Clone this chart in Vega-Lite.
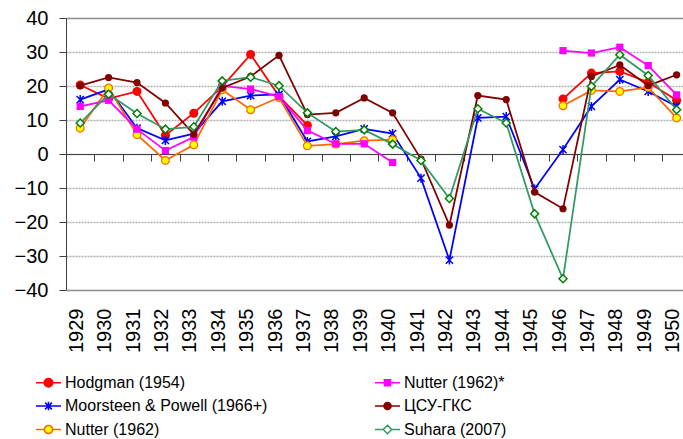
{
  "$schema": "https://vega.github.io/schema/vega-lite/v6.json",
  "autosize": {"type": "none"},
  "padding": {"left": 66, "top": 18, "right": 0, "bottom": 149},
  "width": 617,
  "height": 272,
  "background": "white",
  "config": {
    "view": {"stroke": null},
    "font": "Liberation Sans",
    "axis": {"labelFont": "Liberation Sans", "labelColor": "black", "titleFont": "Liberation Sans"},
    "legend": {"labelFont": "Liberation Sans"}
  },
  "datasets": {
    "d": [
      {"s": "Hodgman (1954)", "year": 1929, "v": 20.3, "p": 1},
      {"s": "Hodgman (1954)", "year": 1930, "v": 16.3, "p": 1},
      {"s": "Hodgman (1954)", "year": 1931, "v": 18.4, "p": 1},
      {"s": "Hodgman (1954)", "year": 1932, "v": 5.5, "p": 1},
      {"s": "Hodgman (1954)", "year": 1933, "v": 12, "p": 1},
      {"s": "Hodgman (1954)", "year": 1934, "v": 19.8, "p": 1},
      {"s": "Hodgman (1954)", "year": 1935, "v": 29.3, "p": 1},
      {"s": "Hodgman (1954)", "year": 1936, "v": 17, "p": 1},
      {"s": "Hodgman (1954)", "year": 1937, "v": 8.4, "p": 1},
      {"s": "Hodgman (1954)", "year": 1946, "v": 16.2, "p": 2},
      {"s": "Hodgman (1954)", "year": 1947, "v": 23.8, "p": 2},
      {"s": "Hodgman (1954)", "year": 1948, "v": 24.3, "p": 2},
      {"s": "Hodgman (1954)", "year": 1949, "v": 21.1, "p": 2},
      {"s": "Hodgman (1954)", "year": 1950, "v": 15.8, "p": 2},

      {"s": "Moorsteen & Powell (1966+)", "year": 1929, "v": 16, "p": 1},
      {"s": "Moorsteen & Powell (1966+)", "year": 1930, "v": 19, "p": 1},
      {"s": "Moorsteen & Powell (1966+)", "year": 1931, "v": 7.6, "p": 1},
      {"s": "Moorsteen & Powell (1966+)", "year": 1932, "v": 4, "p": 1},
      {"s": "Moorsteen & Powell (1966+)", "year": 1933, "v": 6, "p": 1},
      {"s": "Moorsteen & Powell (1966+)", "year": 1934, "v": 15.5, "p": 1},
      {"s": "Moorsteen & Powell (1966+)", "year": 1935, "v": 17.2, "p": 1},
      {"s": "Moorsteen & Powell (1966+)", "year": 1936, "v": 17.5, "p": 1},
      {"s": "Moorsteen & Powell (1966+)", "year": 1937, "v": 3.7, "p": 1},
      {"s": "Moorsteen & Powell (1966+)", "year": 1938, "v": 5.2, "p": 1},
      {"s": "Moorsteen & Powell (1966+)", "year": 1939, "v": 7.4, "p": 1},
      {"s": "Moorsteen & Powell (1966+)", "year": 1940, "v": 6, "p": 1},
      {"s": "Moorsteen & Powell (1966+)", "year": 1941, "v": -7.1, "p": 1},
      {"s": "Moorsteen & Powell (1966+)", "year": 1942, "v": -31.2, "p": 1},
      {"s": "Moorsteen & Powell (1966+)", "year": 1943, "v": 10.6, "p": 1},
      {"s": "Moorsteen & Powell (1966+)", "year": 1944, "v": 11, "p": 1},
      {"s": "Moorsteen & Powell (1966+)", "year": 1945, "v": -10.3, "p": 1},
      {"s": "Moorsteen & Powell (1966+)", "year": 1946, "v": 1.3, "p": 1},
      {"s": "Moorsteen & Powell (1966+)", "year": 1947, "v": 14, "p": 1},
      {"s": "Moorsteen & Powell (1966+)", "year": 1948, "v": 21.9, "p": 1},
      {"s": "Moorsteen & Powell (1966+)", "year": 1949, "v": 18.4, "p": 1},
      {"s": "Moorsteen & Powell (1966+)", "year": 1950, "v": 14, "p": 1},

      {"s": "Nutter (1962)", "year": 1929, "v": 7.6, "p": 1},
      {"s": "Nutter (1962)", "year": 1930, "v": 19.4, "p": 1},
      {"s": "Nutter (1962)", "year": 1931, "v": 5.7, "p": 1},
      {"s": "Nutter (1962)", "year": 1932, "v": -1.9, "p": 1},
      {"s": "Nutter (1962)", "year": 1933, "v": 2.7, "p": 1},
      {"s": "Nutter (1962)", "year": 1934, "v": 18.9, "p": 1},
      {"s": "Nutter (1962)", "year": 1935, "v": 13, "p": 1},
      {"s": "Nutter (1962)", "year": 1936, "v": 16.6, "p": 1},
      {"s": "Nutter (1962)", "year": 1937, "v": 2.4, "p": 1},
      {"s": "Nutter (1962)", "year": 1938, "v": 2.9, "p": 1},
      {"s": "Nutter (1962)", "year": 1939, "v": 3.9, "p": 1},
      {"s": "Nutter (1962)", "year": 1940, "v": 4.2, "p": 1},
      {"s": "Nutter (1962)", "year": 1946, "v": 14.2, "p": 2},
      {"s": "Nutter (1962)", "year": 1947, "v": 18.7, "p": 2},
      {"s": "Nutter (1962)", "year": 1948, "v": 18.4, "p": 2},
      {"s": "Nutter (1962)", "year": 1949, "v": 19.6, "p": 2},
      {"s": "Nutter (1962)", "year": 1950, "v": 10.6, "p": 2},

      {"s": "Nutter (1962)*", "year": 1929, "v": 14, "p": 1},
      {"s": "Nutter (1962)*", "year": 1930, "v": 15.8, "p": 1},
      {"s": "Nutter (1962)*", "year": 1931, "v": 7.3, "p": 1},
      {"s": "Nutter (1962)*", "year": 1932, "v": 1, "p": 1},
      {"s": "Nutter (1962)*", "year": 1933, "v": 5, "p": 1},
      {"s": "Nutter (1962)*", "year": 1934, "v": 20, "p": 1},
      {"s": "Nutter (1962)*", "year": 1935, "v": 19.1, "p": 1},
      {"s": "Nutter (1962)*", "year": 1936, "v": 16.9, "p": 1},
      {"s": "Nutter (1962)*", "year": 1937, "v": 6.9, "p": 1},
      {"s": "Nutter (1962)*", "year": 1938, "v": 3, "p": 1},
      {"s": "Nutter (1962)*", "year": 1939, "v": 3, "p": 1},
      {"s": "Nutter (1962)*", "year": 1940, "v": -2.5, "p": 1},
      {"s": "Nutter (1962)*", "year": 1946, "v": 30.4, "p": 2},
      {"s": "Nutter (1962)*", "year": 1947, "v": 29.7, "p": 2},
      {"s": "Nutter (1962)*", "year": 1948, "v": 31.4, "p": 2},
      {"s": "Nutter (1962)*", "year": 1949, "v": 26, "p": 2},
      {"s": "Nutter (1962)*", "year": 1950, "v": 17.4, "p": 2},

      {"s": "ЦСУ-ГКС", "year": 1929, "v": 20.1, "p": 1},
      {"s": "ЦСУ-ГКС", "year": 1930, "v": 22.5, "p": 1},
      {"s": "ЦСУ-ГКС", "year": 1931, "v": 21, "p": 1},
      {"s": "ЦСУ-ГКС", "year": 1932, "v": 15, "p": 1},
      {"s": "ЦСУ-ГКС", "year": 1933, "v": 5.8, "p": 1},
      {"s": "ЦСУ-ГКС", "year": 1934, "v": 19.4, "p": 1},
      {"s": "ЦСУ-ГКС", "year": 1935, "v": 22.8, "p": 1},
      {"s": "ЦСУ-ГКС", "year": 1936, "v": 29, "p": 1},
      {"s": "ЦСУ-ГКС", "year": 1937, "v": 11.6, "p": 1},
      {"s": "ЦСУ-ГКС", "year": 1938, "v": 12.1, "p": 1},
      {"s": "ЦСУ-ГКС", "year": 1939, "v": 16.5, "p": 1},
      {"s": "ЦСУ-ГКС", "year": 1940, "v": 12.1, "p": 1},
      {"s": "ЦСУ-ГКС", "year": 1941, "v": -1.5, "p": 1},
      {"s": "ЦСУ-ГКС", "year": 1942, "v": -20.9, "p": 1},
      {"s": "ЦСУ-ГКС", "year": 1943, "v": 17.2, "p": 1},
      {"s": "ЦСУ-ГКС", "year": 1944, "v": 16, "p": 1},
      {"s": "ЦСУ-ГКС", "year": 1945, "v": -11.2, "p": 1},
      {"s": "ЦСУ-ГКС", "year": 1946, "v": -16.1, "p": 1},
      {"s": "ЦСУ-ГКС", "year": 1947, "v": 22.8, "p": 1},
      {"s": "ЦСУ-ГКС", "year": 1948, "v": 26.2, "p": 1},
      {"s": "ЦСУ-ГКС", "year": 1949, "v": 20.1, "p": 1},
      {"s": "ЦСУ-ГКС", "year": 1950, "v": 23.3, "p": 1},

      {"s": "Suhara (2007)", "year": 1929, "v": 9.1, "p": 1},
      {"s": "Suhara (2007)", "year": 1930, "v": 17.6, "p": 1},
      {"s": "Suhara (2007)", "year": 1931, "v": 11.9, "p": 1},
      {"s": "Suhara (2007)", "year": 1932, "v": 7.3, "p": 1},
      {"s": "Suhara (2007)", "year": 1933, "v": 8, "p": 1},
      {"s": "Suhara (2007)", "year": 1934, "v": 21.5, "p": 1},
      {"s": "Suhara (2007)", "year": 1935, "v": 22.6, "p": 1},
      {"s": "Suhara (2007)", "year": 1936, "v": 20.1, "p": 1},
      {"s": "Suhara (2007)", "year": 1937, "v": 12.1, "p": 1},
      {"s": "Suhara (2007)", "year": 1938, "v": 6.6, "p": 1},
      {"s": "Suhara (2007)", "year": 1939, "v": 7.1, "p": 1},
      {"s": "Suhara (2007)", "year": 1940, "v": 2.9, "p": 1},
      {"s": "Suhara (2007)", "year": 1941, "v": -1.9, "p": 1},
      {"s": "Suhara (2007)", "year": 1942, "v": -13.1, "p": 1},
      {"s": "Suhara (2007)", "year": 1943, "v": 13.3, "p": 1},
      {"s": "Suhara (2007)", "year": 1944, "v": 9.1, "p": 1},
      {"s": "Suhara (2007)", "year": 1945, "v": -17.6, "p": 1},
      {"s": "Suhara (2007)", "year": 1946, "v": -36.7, "p": 1},
      {"s": "Suhara (2007)", "year": 1947, "v": 19.9, "p": 1},
      {"s": "Suhara (2007)", "year": 1948, "v": 29.2, "p": 1},
      {"s": "Suhara (2007)", "year": 1949, "v": 23.1, "p": 1},
      {"s": "Suhara (2007)", "year": 1950, "v": 13, "p": 1}
    ]
  },
  "data": {"name": "d"},
  "encoding": {
    "x": {
      "field": "year", "type": "quantitative",
      "scale": {"domain": [1928.5, 1950.225], "nice": false, "zero": false},
      "axis": {
        "values": [1929,1930,1931,1932,1933,1934,1935,1936,1937,1938,1939,1940,1941,1942,1943,1944,1945,1946,1947,1948,1949,1950],
        "format": "d", "labelAngle": -90, "orient": "bottom", "offset": -136,
        "domain": true, "domainColor": "#404040", "domainWidth": 1,
        "ticks": true, "tickSize": 7, "tickColor": "#404040", "tickOffset": 14.2,
        "labelOffset": -18.2, "labelPadding": 147, "grid": false,
        "labelFontSize": 20, "labelFlush": false, "labelOverlap": false, "title": null
      }
    },
    "y": {
      "field": "v", "type": "quantitative",
      "scale": {"domain": [-40, 40], "nice": false, "zero": false},
      "axis": {
        "values": [-40,-30,-20,-10,0,10,20,30,40],
        "title": null, "labelFontSize": 20, "labelPadding": 11, "labelOverlap": false,
        "domainColor": "#404040", "tickColor": "#404040", "tickSize": 7,
        "grid": true, "gridWidth": 1.5,
        "gridColor": {"condition": {"test": "abs(datum.value) == 40", "value": "#8c8c8c"}, "value": "#b0b0b0"},
        "gridDash": {"condition": {"test": "abs(datum.value) == 40", "value": []}, "value": [2, 1]}
      }
    },
    "detail": {"field": "p", "type": "nominal"}
  },
  "layer": [
    {
      "transform": [{"filter": "datum.s == 'Hodgman (1954)'"}],
      "mark": {"type": "line", "stroke": "#FF0000", "strokeWidth": 1.75,
        "point": {"shape": "circle", "filled": true, "fill": "#FF0000", "strokeWidth": 0, "size": 81, "opacity": 1}}
    },
    {
      "transform": [{"filter": "datum.s == 'Moorsteen & Powell (1966+)'"}],
      "mark": {"type": "line", "stroke": "#0000FF", "strokeWidth": 1.75,
        "point": {"shape": "M-0.8,-0.8L0.8,0.8M-0.8,0.8L0.8,-0.8M0,-1L0,1", "filled": false, "fill": "transparent", "stroke": "#0000FF", "strokeWidth": 1.5, "size": 81, "opacity": 1}}
    },
    {
      "transform": [{"filter": "datum.s == 'Nutter (1962)'"}],
      "mark": {"type": "line", "stroke": "#FF6600", "strokeWidth": 1.75,
        "point": {"shape": "circle", "filled": true, "fill": "#FFFF00", "stroke": "#FF6600", "strokeWidth": 1.2, "size": 60, "opacity": 1}}
    },
    {
      "transform": [{"filter": "datum.s == 'Nutter (1962)*'"}],
      "mark": {"type": "line", "stroke": "#FF00FF", "strokeWidth": 1.75,
        "point": {"shape": "square", "filled": true, "fill": "#FF00FF", "strokeWidth": 0, "size": 52, "opacity": 1}}
    },
    {
      "transform": [{"filter": "datum.s == 'ЦСУ-ГКС'"}],
      "mark": {"type": "line", "stroke": "#800000", "strokeWidth": 1.75,
        "point": {"shape": "circle", "filled": true, "fill": "#800000", "strokeWidth": 0, "size": 52, "opacity": 1}}
    },
    {
      "transform": [{"filter": "datum.s == 'Suhara (2007)'"}],
      "mark": {"type": "line", "stroke": "#339966", "strokeWidth": 1.75,
        "point": {"shape": "diamond", "filled": true, "fill": "#FFFFFF", "stroke": "#008000", "strokeWidth": 1.5, "size": 64, "opacity": 1}}
    },
    {
      "transform": [{"filter": "false"}],
      "mark": {"type": "point", "opacity": 1, "strokeWidth": 1.5},
      "encoding": {
        "stroke": {
          "field": "s", "type": "nominal",
          "scale": {
            "domain": ["Hodgman (1954)", "Moorsteen & Powell (1966+)", "Nutter (1962)", "Nutter (1962)*", "ЦСУ-ГКС", "Suhara (2007)"],
            "range": ["#FF0000", "#0000FF", "#FF6600", "#FF00FF", "#800000", "#339966"]
          }
        },
        "fill": {
          "field": "s", "type": "nominal",
          "scale": {
            "domain": ["Hodgman (1954)", "Moorsteen & Powell (1966+)", "Nutter (1962)", "Nutter (1962)*", "ЦСУ-ГКС", "Suhara (2007)"],
            "range": ["#FF0000", "transparent", "#FFFF00", "#FF00FF", "#800000", "#FFFFFF"]
          }
        },
        "shape": {
          "field": "s", "type": "nominal",
          "scale": {
            "domain": ["Hodgman (1954)", "Moorsteen & Powell (1966+)", "Nutter (1962)", "Nutter (1962)*", "ЦСУ-ГКС", "Suhara (2007)"],
            "range": [
              "M-1.47,0H1.47M-0.5,0A0.5,0.5 0 1,1 0.5,0A0.5,0.5 0 1,1 -0.5,0Z",
              "M-1.47,0H1.47M-0.4,-0.4L0.4,0.4M-0.4,0.4L0.4,-0.4M0,-0.5L0,0.5",
              "M-1.47,0H-0.48M0.48,0H1.47M-0.48,0A0.48,0.48 0 1,1 0.48,0A0.48,0.48 0 1,1 -0.48,0Z",
              "M-1.47,0H-0.36M0.36,0H1.47M-0.36,-0.36H0.36V0.36H-0.36Z",
              "M-1.47,0H1.47M-0.42,0A0.42,0.42 0 1,1 0.42,0A0.42,0.42 0 1,1 -0.42,0Z",
              "M-1.47,0H-0.5M0.5,0H1.47M0,-0.5L0.5,0L0,0.5L-0.5,0Z"
            ]
          },
          "legend": {
            "orient": "none", "legendX": -27, "legendY": 355, "columns": 2,
            "columnPadding": 104, "rowPadding": 5.5, "symbolSize": 289,
            "labelFontSize": 16, "labelColor": "black", "labelOffset": 7, "padding": 0,
            "title": null, "symbolStrokeWidth": 1.5, "labelLimit": 0, "symbolOpacity": 1
          }
        }
      }
    }
  ]
}
